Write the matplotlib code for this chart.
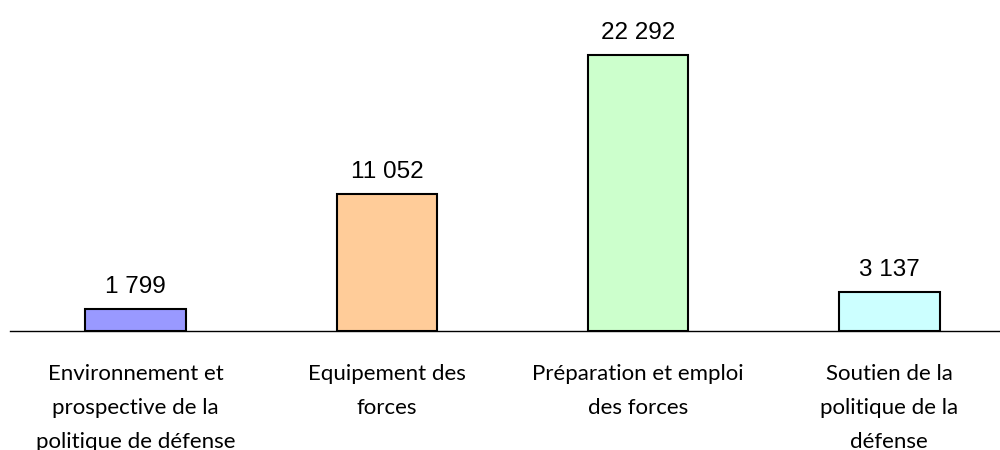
import matplotlib.pyplot as plt

categories = ['Environnement et\nprospective de la\npolitique de défense',
              'Equipement des\nforces',
              'Préparation et emploi\ndes forces',
              'Soutien de la\npolitique de la\ndéfense']
values = [1799, 11052, 22292, 3137]
value_labels = ['1 799', '11 052', '22 292', '3 137']
colors = ['#9999FF', '#FFCC99', '#CCFFCC', '#CCFFFF']

fig = plt.figure(figsize=(10, 4.5), dpi=100)
ax = fig.add_axes([0.01, 119 / 450, 1.005, 331 / 450])

x = range(len(values))
ax.bar(x, values, width=0.4, color=colors, edgecolor='black', linewidth=1.5, zorder=3)
ax.set_xlim(-0.5, 3.5)
ax.set_ylim(0, 22292 * 331 / 276)

for i, (v, lab) in enumerate(zip(values, value_labels)):
    ax.annotate(lab, xy=(i, v), xytext=(0, 8), textcoords='offset points',
                ha='center', va='bottom', fontsize=17.5, family='Liberation Sans')

ax.set_xticks(list(x))
ax.set_xticklabels(categories, fontsize=16, family='Lato', linespacing=1.85)
ax.tick_params(axis='x', length=0, pad=24)
ax.set_yticks([])
for s in ['top', 'right', 'left']:
    ax.spines[s].set_visible(False)
ax.spines['bottom'].set_linewidth(1)

fig.savefig('out.png', dpi=100)
